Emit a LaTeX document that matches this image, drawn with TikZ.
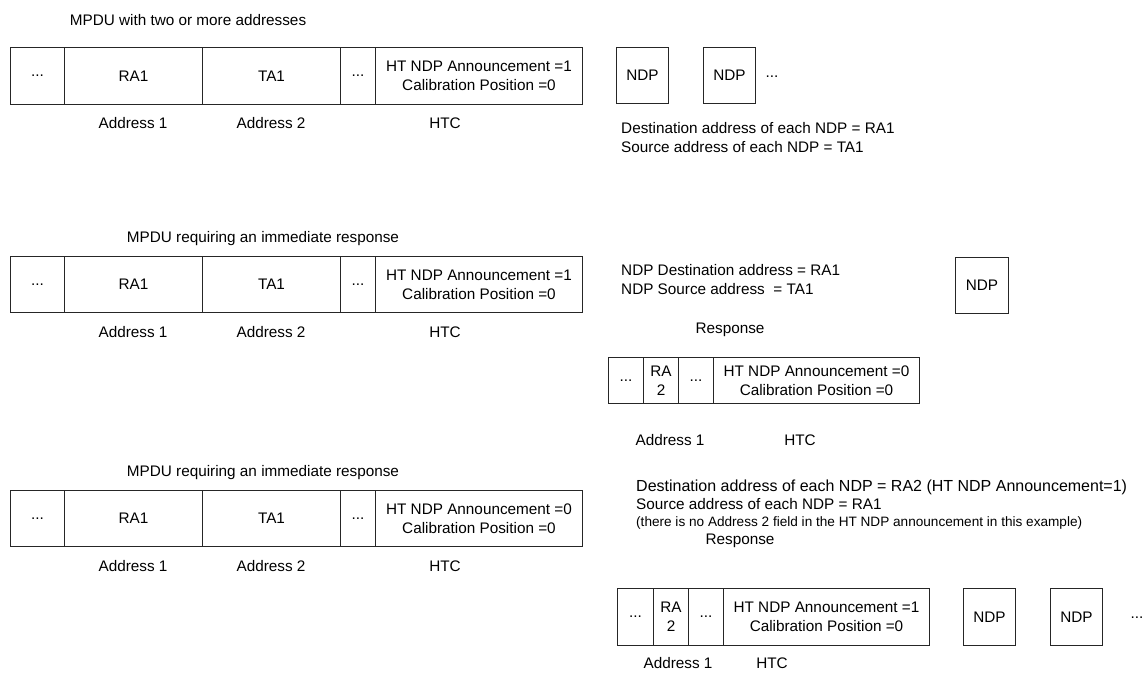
\documentclass[tikz,border=0pt]{standalone}
\usepackage{fontspec}
\setmainfont{Liberation Sans}
\newcommand\fmain{\fontsize{15.3}{19}\selectfont}
\newcommand\fbig{\fontsize{16}{19}\selectfont}
\newcommand\fsmall{\fontsize{13.6}{16}\selectfont}
\begin{document}
\begin{tikzpicture}[x=1pt,y=-1pt,
  fld/.style={draw=black!85, line width=1pt, inner sep=0pt, anchor=north west, align=center, font=\fmain},
  lbl/.style={inner sep=0pt, font=\fmain},
  txt/.style={inner sep=0pt, anchor=north west, align=left, font=\fmain}]
\useasboundingbox (0,0) rectangle (1146,673);
% ---------- Row 1 ----------
\node[lbl] (t1) at (188,20) {MPDU with two or more addresses};
\node[fld, minimum width=54pt, minimum height=57pt] (a1) at (10,47) {...};
\node[fld, minimum width=138pt, minimum height=57pt] (a2) at (64,47) {RA1};
\node[fld, minimum width=138pt, minimum height=57pt] (a3) at (202,47) {TA1};
\node[fld, minimum width=35pt, minimum height=57pt] (a4) at (340,47) {...};
\node[fld, minimum width=207pt, minimum height=57pt] (a5) at (375,47) {HT NDP Announcement =1\\Calibration Position =0};
\node[lbl] (al1) at (133,123) {Address 1};
\node[lbl] (al2) at (271,123) {Address 2};
\node[lbl] (al3) at (445,123) {HTC};
\node[fld, minimum width=52pt, minimum height=56pt] (an1) at (616,47) {NDP};
\node[fld, minimum width=52pt, minimum height=56pt] (an2) at (703,47) {NDP};
\node[lbl] (ad) at (772,77) {...};
\node[txt] (atx) at (621,122) {Destination address of each NDP = RA1\\Source address of each NDP = TA1};
% ---------- Row 2 ----------
\node[lbl] (t2) at (263,239) {MPDU requiring an immediate response};
\node[fld, minimum width=54pt, minimum height=56pt] (b1) at (10,256) {...};
\node[fld, minimum width=138pt, minimum height=56pt] (b2) at (64,256) {RA1};
\node[fld, minimum width=138pt, minimum height=56pt] (b3) at (202,256) {TA1};
\node[fld, minimum width=35pt, minimum height=56pt] (b4) at (340,256) {...};
\node[fld, minimum width=207pt, minimum height=56pt] (b5) at (375,256) {HT NDP Announcement =1\\Calibration Position =0};
\node[lbl] (bl1) at (133,332) {Address 1};
\node[lbl] (bl2) at (271,332) {Address 2};
\node[lbl] (bl3) at (445,332) {HTC};
\node[txt] (btx) at (621,264) {NDP Destination address = RA1\\NDP Source address \ = TA1};
\node[fld, minimum width=53pt, minimum height=56pt] (bn1) at (955,257) {NDP};
\node[lbl] (br) at (730,330) {Response};
\node[fld, minimum width=35pt, minimum height=46pt] (c1) at (608,357) {...};
\node[fld, minimum width=35pt, minimum height=46pt] (c2) at (643,357) {RA\\2};
\node[fld, minimum width=35pt, minimum height=46pt] (c3) at (678,357) {...};
\node[fld, minimum width=206pt, minimum height=46pt] (c4) at (713,357) {HT NDP Announcement =0\\Calibration Position =0};
\node[lbl] (cl1) at (670,440) {Address 1};
\node[lbl] (cl2) at (800,440) {HTC};
% ---------- Row 3 ----------
\node[lbl] (t3) at (263,473) {MPDU requiring an immediate response};
\node[fld, minimum width=54pt, minimum height=56pt] (d1) at (10,490) {...};
\node[fld, minimum width=138pt, minimum height=56pt] (d2) at (64,490) {RA1};
\node[fld, minimum width=138pt, minimum height=56pt] (d3) at (202,490) {TA1};
\node[fld, minimum width=35pt, minimum height=56pt] (d4) at (340,490) {...};
\node[fld, minimum width=207pt, minimum height=56pt] (d5) at (375,490) {HT NDP Announcement =0\\Calibration Position =0};
\node[lbl] (dl1) at (133,566) {Address 1};
\node[lbl] (dl2) at (271,566) {Address 2};
\node[lbl] (dl3) at (445,566) {HTC};
\node[txt, font=\fbig] (dtx) at (636,480) {Destination address of each NDP = RA2 (HT NDP Announcement=1)};
\node[txt] (dtx1) at (636,498) {Source address of each NDP = RA1};
\node[txt, font=\fsmall] (dtx2) at (636,516) {(there is no Address 2 field in the HT NDP announcement in this example)};
\node[lbl] (dr) at (740,541) {Response};
\node[fld, minimum width=36pt, minimum height=57pt] (e1) at (617,588) {...};
\node[fld, minimum width=35pt, minimum height=57pt] (e2) at (653,588) {RA\\2};
\node[fld, minimum width=35pt, minimum height=57pt] (e3) at (688,588) {...};
\node[fld, minimum width=206pt, minimum height=57pt] (e4) at (723,588) {HT NDP Announcement =1\\Calibration Position =0};
\node[fld, minimum width=52pt, minimum height=57pt] (en1) at (963,588) {NDP};
\node[fld, minimum width=52pt, minimum height=57pt] (en2) at (1050,588) {NDP};
\node[lbl] (ed) at (1137,618) {...};
\node[lbl] (el1) at (678,663) {Address 1};
\node[lbl] (el2) at (772,663) {HTC};
\end{tikzpicture}
\end{document}
